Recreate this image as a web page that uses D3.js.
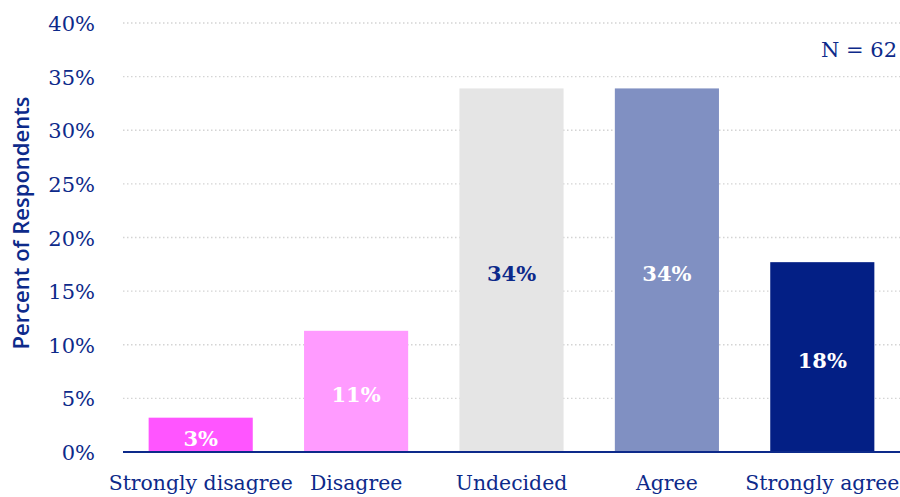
<!DOCTYPE html>
<html>
<head>
<meta charset="utf-8">
<script src="https://cdn.jsdelivr.net/npm/d3@7"></script>
<style>
  body { margin: 0; background: #fff; }
  svg { display: block; }
</style>
</head>
<body>
<div id="chart"></div>
<script>
// data (N = 62)
const categories = ["Strongly disagree", "Disagree", "Undecided", "Agree", "Strongly agree"];
const percents = [3.2, 11.3, 33.9, 33.9, 17.7];
const valueLabels = ["3%", "11%", "34%", "34%", "18%"];
const barColors = ["#ff55ff", "#ff9bff", "#e5e5e5", "#8090c2", "#031f85"];
const labelColors = ["#fff", "#fff", "#0d2a8a", "#fff", "#fff"];
const yTicks = [0, 5, 10, 15, 20, 25, 30, 35, 40];

const navy = "#0d2a8a";
const serif = "'DejaVu Serif', 'Liberation Serif', serif";

var width = 900, height = 497;
var margin = {top: 23, right: 0, bottom: 45, left: 123};

var svg = d3.select("#chart")
  .append("svg")
  .attr("width", width)
  .attr("height", height);

var x = d3.scaleBand()
  .domain(categories)
  .range([margin.left, width - margin.right])
  .paddingInner(0.33)
  .paddingOuter(0.165);

var y = d3.scaleLinear()
  .domain([0, 40])
  .range([height - margin.bottom, margin.top]);

// dotted gridlines
svg.append("g")
  .selectAll("line")
  .data(yTicks.filter(d => d > 0))
  .enter()
  .append("line")
    .attr("x1", margin.left)
    .attr("x2", width)
    .attr("y1", d => y(d))
    .attr("y2", d => y(d))
    .attr("stroke", "#d4d4d4")
    .attr("stroke-width", 1.3)
    .attr("stroke-dasharray", "1.5,2.5");

// y axis labels
var yAxis = svg.append("g")
  .attr("transform", "translate(95,0)")
  .call(d3.axisLeft(y).tickValues(yTicks).tickFormat(d => d + "%").tickSize(0).tickPadding(0));
yAxis.select(".domain").remove();
yAxis.selectAll("text")
  .attr("fill", navy)
  .attr("dy", "0.36em")
  .style("font-family", serif)
  .style("font-size", "21px");

// bars
svg.selectAll("rect.bar")
  .data(percents)
  .enter()
  .append("rect")
    .attr("class", "bar")
    .attr("x", (d, i) => x(categories[i]))
    .attr("y", d => y(d))
    .attr("width", x.bandwidth())
    .attr("height", d => y(0) - y(d))
    .attr("fill", (d, i) => barColors[i]);

// value labels in the middle of each bar
svg.selectAll("text.val")
  .data(percents)
  .enter()
  .append("text")
    .attr("class", "val")
    .attr("x", (d, i) => x(categories[i]) + x.bandwidth() / 2)
    .attr("y", d => (y(d) + y(0)) / 2 + 11)
    .attr("text-anchor", "middle")
    .attr("fill", (d, i) => labelColors[i])
    .style("font-family", serif)
    .style("font-weight", "bold")
    .style("font-size", "21px")
    .text((d, i) => valueLabels[i]);

// baseline
svg.append("line")
  .attr("x1", margin.left)
  .attr("x2", width)
  .attr("y1", y(0))
  .attr("y2", y(0))
  .attr("stroke", navy)
  .attr("stroke-width", 2);

// x axis category labels
var xAxis = svg.append("g")
  .attr("transform", "translate(0," + y(0) + ")")
  .call(d3.axisBottom(x).tickSize(0).tickPadding(24));
xAxis.select(".domain").remove();
xAxis.selectAll("text")
  .attr("fill", navy)
  .style("font-family", serif)
  .style("font-size", "20.4px");

// y axis title
svg.append("text")
  .attr("transform", "translate(29," + 223 + ") rotate(-90)")
  .attr("text-anchor", "middle")
  .attr("fill", navy)
  .style("font-family", "'Open Sans', sans-serif")
  .style("font-weight", "600")
  .style("font-size", "22px")
  .text("Percent of Respondents");

// sample size
svg.append("text")
  .attr("x", 897)
  .attr("y", 57)
  .attr("text-anchor", "end")
  .attr("fill", navy)
  .style("font-family", serif)
  .style("font-size", "21px")
  .text("N = 62");
</script>
</body>
</html>
